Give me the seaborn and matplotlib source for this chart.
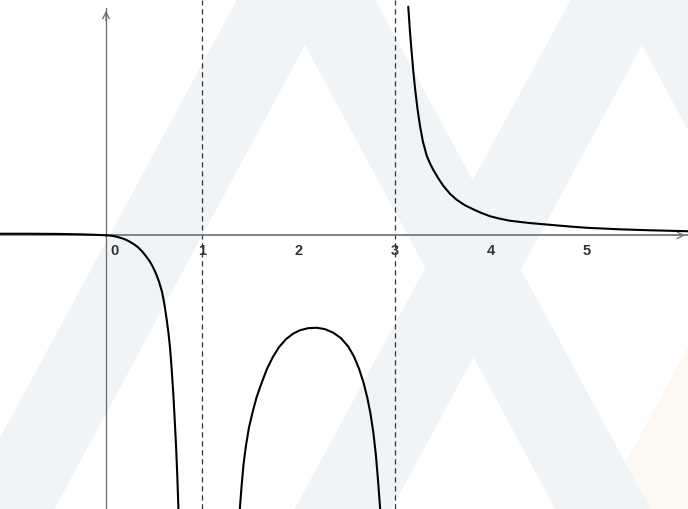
import numpy as np
import pandas as pd
import matplotlib
matplotlib.use("Agg")
import matplotlib.pyplot as plt
import matplotlib.transforms as mtransforms
import seaborn as sns

# Points (x, y) par branche
x_left = [-1.102, -0.790, -0.478, -0.270, -0.114, 0.0]
y_left = [0.016, 0.016, 0.014, 0.010, 0.005, 0.0]

x_branch1 = [0.0, 0.042, 0.083, 0.125, 0.166, 0.208, 0.249, 0.291, 0.333, 0.374,
             0.416, 0.457, 0.489, 0.520, 0.551, 0.582, 0.608, 0.631, 0.650, 0.665,
             0.683, 0.700, 0.714, 0.728, 0.741, 0.752, 0.757]
y_branch1 = [0.0, -0.003, -0.009, -0.019, -0.031, -0.047, -0.068, -0.094, -0.125, -0.166,
             -0.218, -0.275, -0.333, -0.400, -0.483, -0.587, -0.723, -0.879, -1.024, -1.164,
             -1.398, -1.658, -1.918, -2.188, -2.500, -2.822, -3.061]

x_branch2 = [1.377, 1.393, 1.409, 1.429, 1.455, 1.486, 1.523, 1.564, 1.611, 1.670,
             1.731, 1.798, 1.871, 1.944, 2.017, 2.100, 2.190, 2.277, 2.363, 2.443,
             2.519, 2.578, 2.630, 2.677, 2.716, 2.749, 2.779, 2.805, 2.827, 2.848, 2.862]
y_branch2 = [-3.061, -2.822, -2.614, -2.386, -2.188, -2.001, -1.845, -1.689, -1.554, -1.398,
             -1.273, -1.164, -1.081, -1.024, -0.988, -0.967, -0.962, -0.977, -1.014, -1.071,
             -1.159, -1.263, -1.388, -1.533, -1.689, -1.855, -2.053, -2.282, -2.542, -2.822, -3.061]

x_branch3 = [3.142, 3.160, 3.178, 3.194, 3.212, 3.238, 3.264, 3.295, 3.334, 3.368,
             3.402, 3.451, 3.506, 3.576, 3.646, 3.732, 3.818, 3.898, 3.992, 4.096,
             4.200, 4.407, 4.615, 4.823, 4.997, 5.343, 5.655, 6.050]
y_branch3 = [2.378, 2.115, 1.897, 1.710, 1.533, 1.315, 1.138, 0.972, 0.827, 0.748,
             0.681, 0.598, 0.515, 0.431, 0.369, 0.312, 0.270, 0.234, 0.198, 0.172,
             0.151, 0.127, 0.109, 0.091, 0.078, 0.062, 0.052, 0.042]

asymptotes = [1, 3]
ticks = [-1, 0, 1, 2, 3, 4, 5]
tick_labels = ["", "0", "1", "2", "3", "4", "5"]

df = pd.concat([
    pd.DataFrame({"x": x_left, "y": y_left, "branche": "a"}),
    pd.DataFrame({"x": x_branch1, "y": y_branch1, "branche": "b"}),
    pd.DataFrame({"x": x_branch2, "y": y_branch2, "branche": "c"}),
    pd.DataFrame({"x": x_branch3, "y": y_branch3, "branche": "d"}),
])

sns.set_style("white")
plt.rcParams["font.family"] = ["Liberation Sans", "DejaVu Sans"]

fig = plt.figure(figsize=(6.88, 5.09), dpi=100)
ax = fig.add_axes([0, 0, 1, 1])
xmin, xmax = -1.102, 6.050
ymin, ymax = -2.848, 2.448
ax.set_xlim(xmin, xmax)
ax.set_ylim(ymin, ymax)

# filigrane en fond (coordonnées en pixels de l'image)
W, H = 688, 509
def px(pts):
    return [p[0] / W for p in pts], [1 - p[1] / H for p in pts]

cream = [(740, 251), (573, 560), (800, 560)]
chevron1 = [(-66, 560), (306, -128), (678, 560), (583, 560), (305, 45), (27, 560)]
chevron2 = [(267, 560), (640, -128), (1013, 560), (920, 560), (642, 45), (364, 560)]
for poly, col in [(cream, "#fdf9f0"), (chevron1, "#f0f4f7"), (chevron2, "#f0f4f7")]:
    xs, ys = px(poly)
    ax.fill(xs, ys, color=col, lw=0, transform=ax.transAxes, zorder=0)

# axes au centre
for s in ["top", "right"]:
    ax.spines[s].set_visible(False)
ax.spines["bottom"].set_position(("data", 0))
ax.spines["left"].set_position(("data", 0))
ax.spines["bottom"].set_color("#7a7a7a")
ax.spines["bottom"].set_linewidth(1.3)
ax.spines["left"].set_color("#6a6a6a")
ax.spines["left"].set_linewidth(0.9)
ax.spines["left"].set_bounds(ymin, 2.365)
ax.annotate("", xy=(xmax, 0), xytext=(xmax - 0.2, 0),
            arrowprops=dict(arrowstyle="->", color="#7a7a7a", lw=1.0, mutation_scale=12))
ax.annotate("", xy=(0, 2.365), xytext=(0, 2.2),
            arrowprops=dict(arrowstyle="->", color="#6a6a6a", lw=0.9, mutation_scale=12))

ax.set_yticks([])
ax.set_xticks(ticks)
ax.set_xticklabels(tick_labels, fontsize=10.5, fontweight="bold", color="#333333")
ax.tick_params(axis="x", direction="inout", length=5, width=0.8, color="#7a7a7a", pad=3.5)
lab0 = ax.get_xticklabels()[1]
lab0.set_transform(lab0.get_transform() + mtransforms.ScaledTranslation(8 / 100, 0, fig.dpi_scale_trans))

for a in asymptotes:
    ax.axvline(a, color="#333333", lw=0.9, dashes=(4.2, 3.0), zorder=2)

sns.lineplot(data=df, x="x", y="y", units="branche", estimator=None, sort=False,
             color="black", lw=1.5, ax=ax, zorder=3)
ax.set_xlabel("")
ax.set_ylabel("")

fig.savefig("out.png", dpi=100)
